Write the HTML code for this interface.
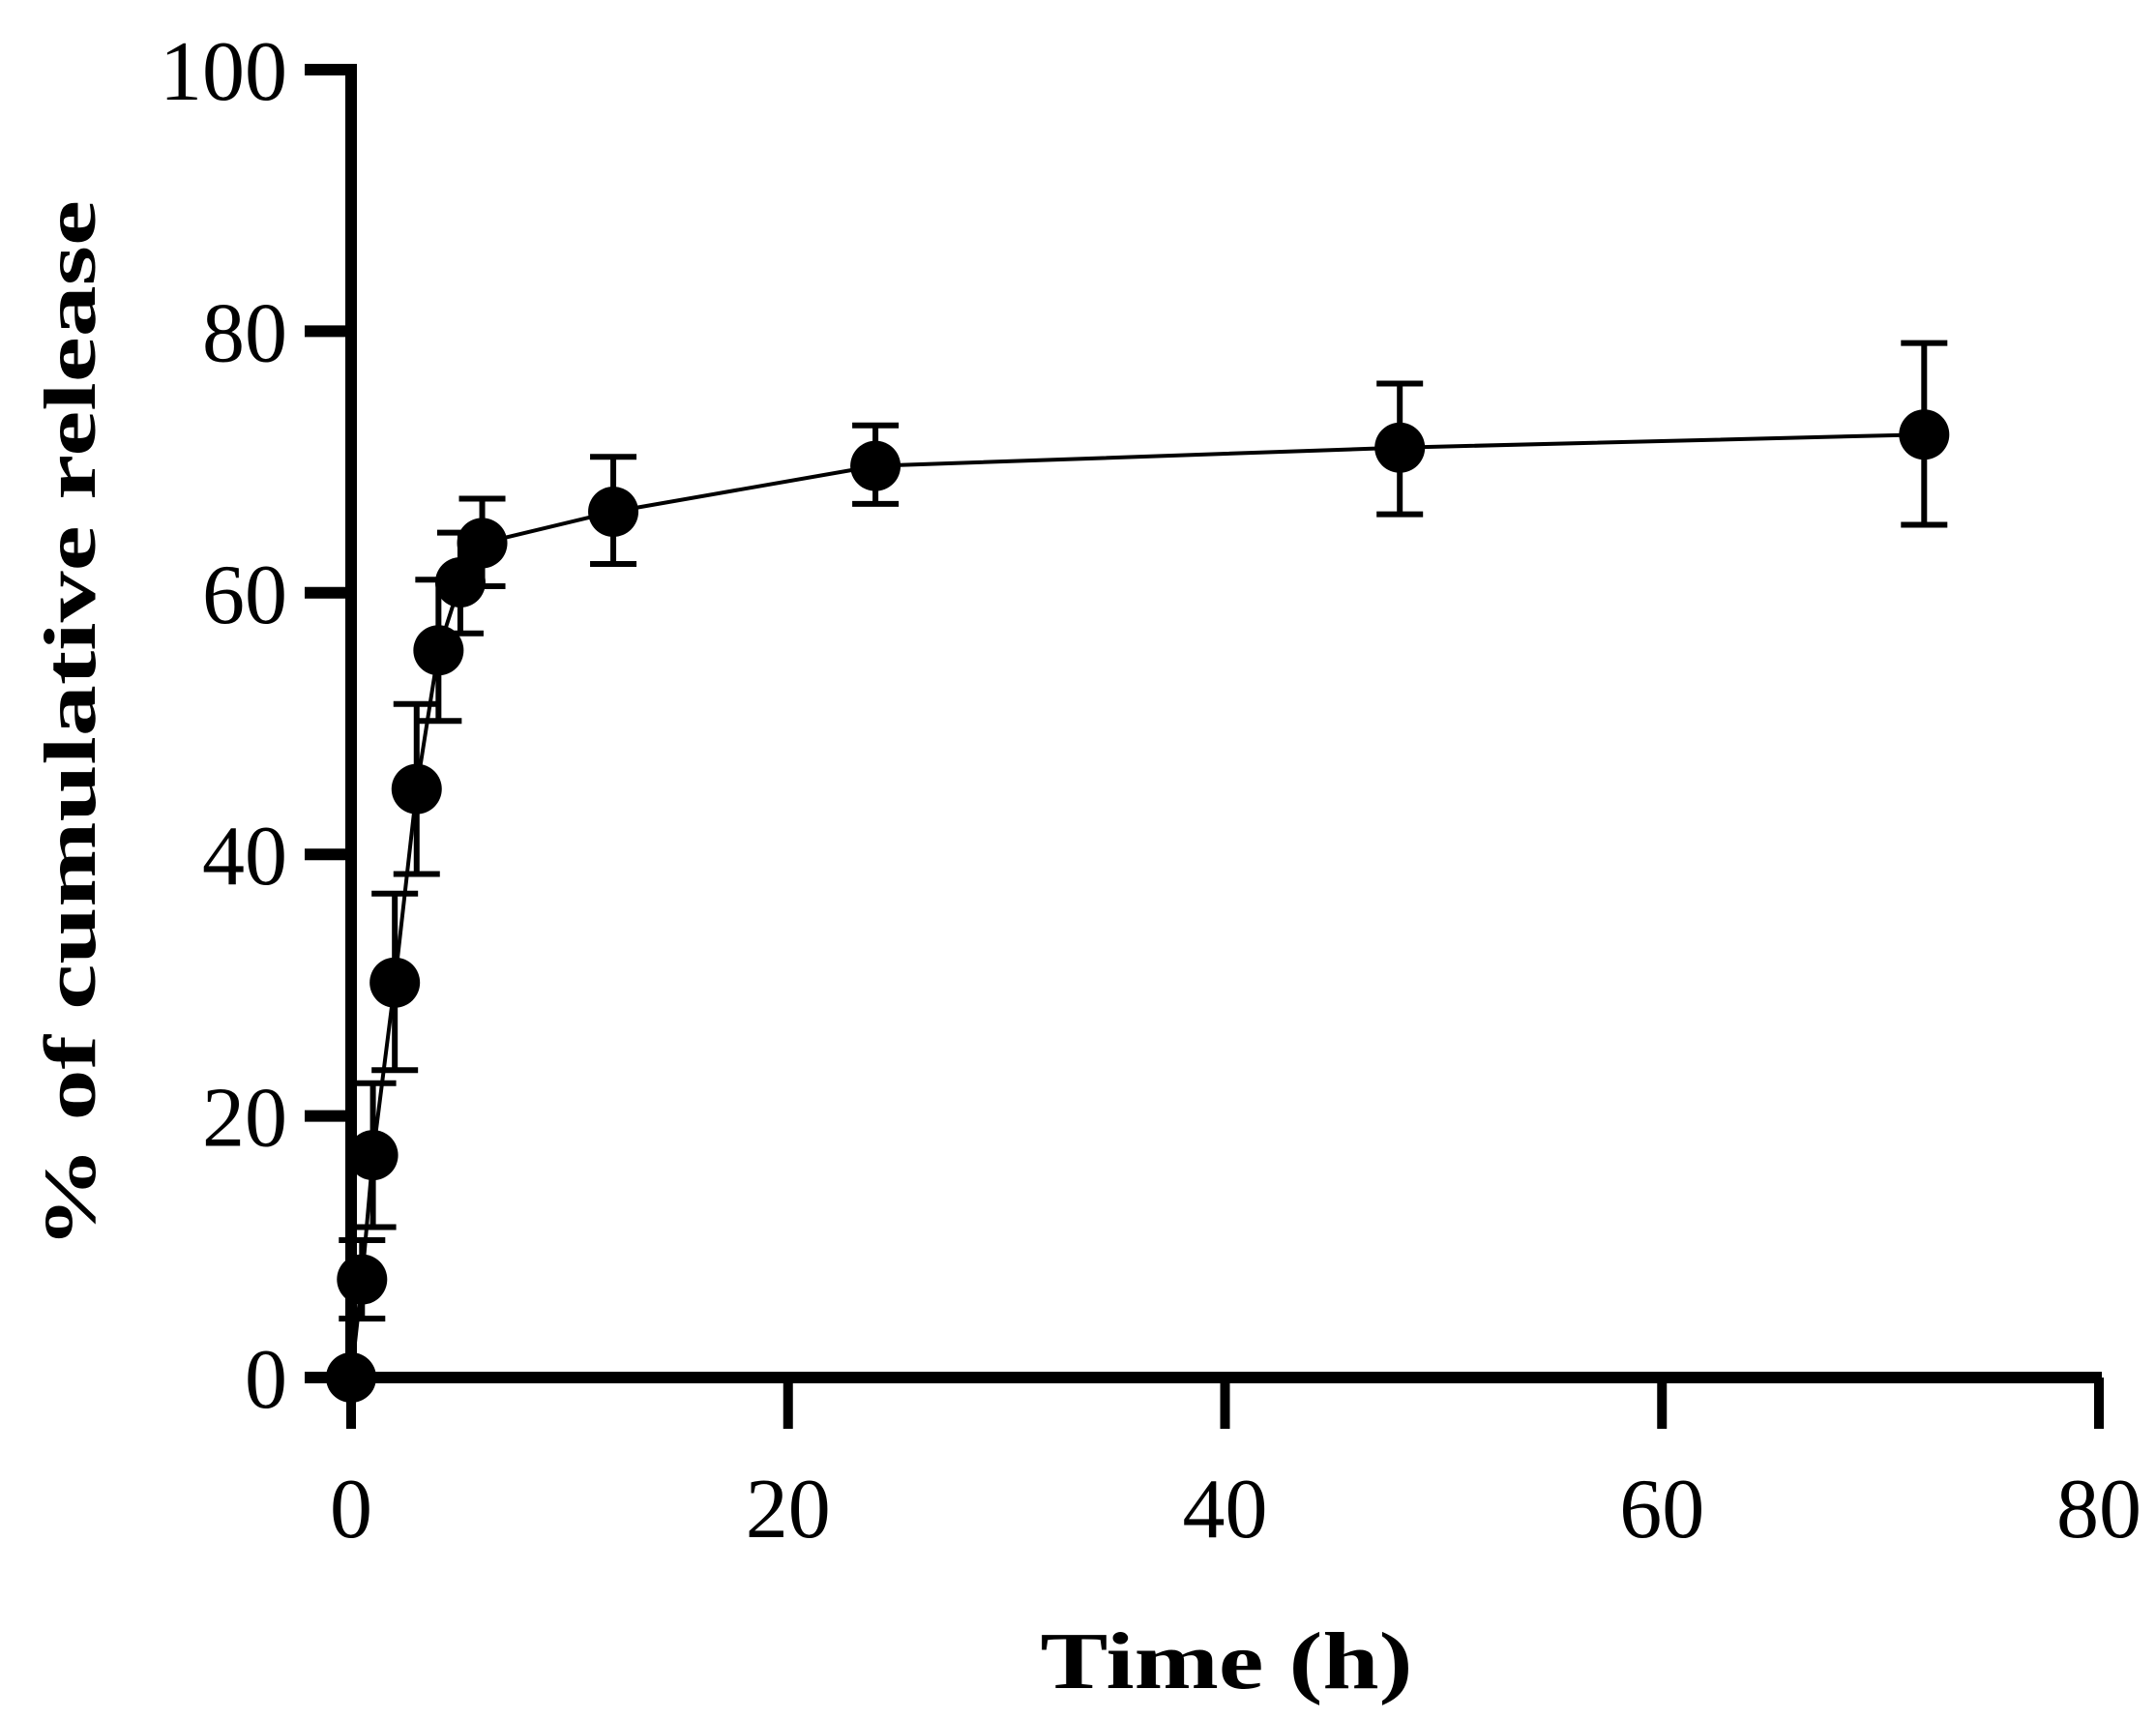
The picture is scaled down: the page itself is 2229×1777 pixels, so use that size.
<!DOCTYPE html>
<html><head><meta charset="utf-8"><style>
html,body{margin:0;padding:0;background:#fff;}
svg{display:block;}
</style></head><body>
<svg id="chart" width="2229" height="1777" viewBox="0 0 2229 1777" xmlns="http://www.w3.org/2000/svg">
<g id="marks"></g>
<text transform="translate(98,749) rotate(-90)" text-anchor="middle" font-family="Liberation Serif, serif" font-weight="bold" font-size="76" textLength="1084" lengthAdjust="spacingAndGlyphs">% of cumulative release</text>
<text x="1268" y="1745" text-anchor="middle" font-family="Liberation Serif, serif" font-weight="bold" font-size="84" textLength="385" lengthAdjust="spacingAndGlyphs">Time (h)</text>
</svg>
<script>
const times = [0, 0.5, 1, 2, 3, 4, 5, 6, 12, 24, 48, 72];
const release = [0, 7.5, 17, 30.2, 45, 55.6, 60.8, 63.8, 66.2, 69.7, 71.1, 72.1];
const errUpper = [0, 10.5, 22.5, 37, 51.5, 61, 64.6, 67.2, 70.4, 72.8, 76.0, 79.1];
const errLower = [0, 4.5, 11.5, 23.5, 38.5, 50.2, 56.9, 60.5, 62.2, 66.8, 66.0, 65.2];
const xTicks = [0, 20, 40, 60, 80];
const yTicks = [0, 20, 40, 60, 80, 100];

const X0 = 363, X1 = 2170, Y0 = 1424, Y1 = 72;
const xs = v => X0 + (v / 80) * (X1 - X0);
const ys = v => Y0 - (v / 100) * (Y0 - Y1);
const NS = 'http://www.w3.org/2000/svg';
const g = document.getElementById('marks');
function mk(tag, attrs) {
  const e = document.createElementNS(NS, tag);
  for (const k in attrs) e.setAttribute(k, attrs[k]);
  g.appendChild(e);
  return e;
}
let a = mk('line', {x1: X0, y1: Y1 - 6, x2: X0, y2: Y0 + 6, stroke: '#000', 'stroke-width': 12});


a = mk('line', {x1: X0 - 6, y1: Y0, x2: X1 + 3, y2: Y0, stroke: '#000', 'stroke-width': 12});


yTicks.forEach(v => {
  const t = mk('line', {x1: 315, y1: ys(v), x2: X0, y2: ys(v), stroke: '#000', 'stroke-width': 12});
  
  
  const l = mk('text', {x: 297, y: ys(v) + 31, 'text-anchor': 'end', 'font-family': 'Liberation Serif, serif', 'font-size': 88});
  l.textContent = v;
  
  
});
xTicks.forEach(v => {
  const t = mk('line', {x1: xs(v), y1: Y0, x2: xs(v), y2: 1477, stroke: '#000', 'stroke-width': 10});
  
  
  const l = mk('text', {x: xs(v), y: 1589, 'text-anchor': 'middle', 'font-family': 'Liberation Serif, serif', 'font-size': 88});
  l.textContent = v;
  
  
});
times.forEach((t, i) => {
  if (errUpper[i] === errLower[i]) return;
  const x = xs(t);
  const e = mk('path', {d: `M${x},${ys(errUpper[i])}V${ys(errLower[i])}M${x-24},${ys(errUpper[i])}H${x+24}M${x-24},${ys(errLower[i])}H${x+24}`, stroke: '#000', 'stroke-width': 6, fill: 'none'});
  
  
});
const ln = mk('polyline', {points: times.map((t, i) => xs(t) + ',' + ys(release[i])).join(' '), stroke: '#000', 'stroke-width': 4, fill: 'none'});


times.forEach((t, i) => {
  const c = mk('circle', {cx: xs(t), cy: ys(release[i]), r: 26, fill: '#000'});
  
  
});
</script>
</body></html>
